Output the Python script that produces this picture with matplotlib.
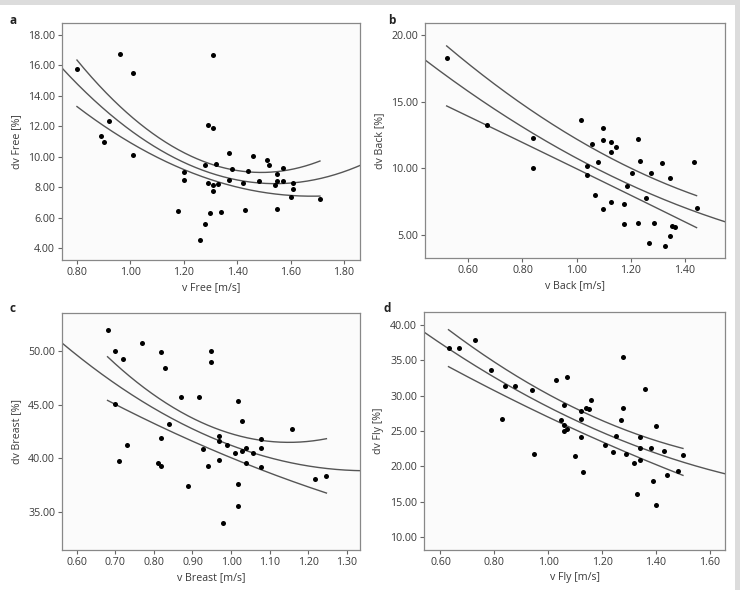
import numpy as np
import matplotlib
matplotlib.use("Agg")
import matplotlib.pyplot as plt
from matplotlib.ticker import FormatStrFormatter
from matplotlib.patches import Rectangle

plt.rcParams['font.family'] = ['Open Sans', 'DejaVu Sans']

# ---------------- data ----------------
free_v = [0.80, 0.96, 1.01, 0.92, 0.89, 0.90, 1.01, 1.20, 1.20, 1.18, 1.26, 1.28,
          1.30, 1.28, 1.29, 1.31, 1.31, 1.29, 1.31, 1.31, 1.32, 1.33, 1.34, 1.37,
          1.37, 1.38, 1.42, 1.43, 1.44, 1.46, 1.48, 1.51, 1.52, 1.54, 1.55, 1.55,
          1.55, 1.57, 1.57, 1.61, 1.61, 1.60, 1.71]
free_dv = [15.77, 16.77, 15.48, 12.38, 11.39, 11.00, 10.10, 9.03, 8.48, 6.45, 4.57, 5.60,
           6.30, 9.49, 12.09, 11.90, 16.69, 8.26, 8.16, 7.74, 9.53, 8.20, 6.36, 10.28,
           8.48, 9.18, 8.31, 6.49, 9.07, 10.04, 8.40, 9.80, 9.49, 8.18, 8.90, 8.44,
           6.58, 9.29, 8.40, 8.29, 7.89, 7.39, 7.26]

back_v = [0.52, 0.668, 0.838, 0.838, 1.016, 1.037, 1.037, 1.055, 1.068, 1.078, 1.096,
          1.096, 1.096, 1.126, 1.126, 1.126, 1.145, 1.176, 1.176, 1.185, 1.206, 1.225,
          1.225, 1.235, 1.255, 1.266, 1.274, 1.284, 1.315, 1.325, 1.345, 1.345, 1.354,
          1.364, 1.433, 1.443]
back_dv = [18.28, 13.28, 12.25, 10.00, 13.63, 10.18, 9.50, 11.80, 8.00, 10.50, 13.00,
           12.13, 6.93, 12.00, 11.25, 7.50, 11.58, 7.30, 5.80, 8.70, 9.65, 12.18,
           5.90, 10.58, 7.80, 4.40, 9.65, 5.90, 10.40, 4.20, 9.25, 4.90, 5.70,
           5.60, 10.45, 7.00]

breast_v = [0.680, 0.699, 0.699, 0.719, 0.710, 0.730, 0.769, 0.819, 0.829, 0.810, 0.819,
            0.819, 0.839, 0.869, 0.889, 0.918, 0.928, 0.939, 0.948, 0.948, 0.968, 0.968,
            0.968, 0.979, 0.989, 1.009, 1.018, 1.018, 1.018, 1.028, 1.028, 1.038, 1.038,
            1.058, 1.078, 1.078, 1.078, 1.158, 1.218, 1.247]
breast_dv = [52.03, 50.00, 45.03, 49.31, 39.78, 41.22, 50.78, 49.91, 48.47, 39.59, 39.28,
             41.91, 43.16, 45.72, 37.44, 45.72, 40.88, 39.28, 50.03, 49.03, 42.09, 41.59,
             39.84, 33.91, 41.28, 40.50, 45.38, 37.56, 35.53, 43.44, 40.72, 41.00, 39.59,
             40.50, 41.81, 40.91, 39.13, 42.75, 38.03, 38.34]

fly_v = [0.630, 0.669, 0.730, 0.788, 0.840, 0.878, 0.829, 0.939, 0.949, 1.029, 1.069,
         1.049, 1.059, 1.059, 1.059, 1.069, 1.099, 1.120, 1.120, 1.120, 1.130, 1.140,
         1.150, 1.159, 1.210, 1.240, 1.250, 1.270, 1.279, 1.279, 1.289, 1.320, 1.330,
         1.340, 1.340, 1.340, 1.360, 1.380, 1.390, 1.400, 1.400, 1.430, 1.440, 1.480,
         1.500]
fly_dv = [36.67, 36.76, 37.89, 33.66, 31.41, 31.41, 26.76, 30.80, 21.74, 32.25, 32.68,
          26.53, 28.64, 25.87, 24.93, 25.26, 21.46, 27.84, 26.76, 24.13, 19.20, 28.31,
          28.17, 29.39, 23.05, 22.07, 24.27, 26.53, 35.45, 28.31, 21.78, 20.47, 16.10,
          24.13, 22.63, 20.85, 30.89, 22.54, 17.98, 25.73, 14.51, 22.21, 18.73, 19.34,
          21.64]

# upper / lower band curves (quadratic coefficients, highest power first)
free_upper = [15.5, -46.19, 43.39]
free_lower = [7.6, -25.536, 28.87]
back_upper = [5.41, -22.79, 29.568]
back_lower = [-0.161, -9.575, 19.70]
breast_upper = [36.3, -83.49, 89.49]
breast_lower = [6.0, -26.868, 60.91]
fly_upper = [10.76, -42.18, 61.60]
fly_lower = [3.23, -24.52, 48.25]

panel_letters = ["a", "b", "c", "d"]
x_labels = ["v Free [m/s]", "v Back [m/s]", "v Breast [m/s]", "v Fly [m/s]"]
y_labels = ["dv Free [%]", "dv Back [%]", "dv Breast [%]", "dv Fly [%]"]
x_ticks = [[0.80, 1.00, 1.20, 1.40, 1.60, 1.80],
           [0.60, 0.80, 1.00, 1.20, 1.40],
           [0.60, 0.70, 0.80, 0.90, 1.00, 1.10, 1.20, 1.30],
           [0.60, 0.80, 1.00, 1.20, 1.40, 1.60]]
y_ticks = [[4, 6, 8, 10, 12, 14, 16, 18],
           [5, 10, 15, 20],
           [35, 40, 45, 50],
           [10, 15, 20, 25, 30, 35, 40]]
x_lims = [(0.744, 1.86), (0.44, 1.548), (0.562, 1.334), (0.539, 1.656)]
y_lims = [(3.23, 18.79), (3.27, 20.9), (31.4, 53.6), (8.2, 41.8)]

datasets = [(free_v, free_dv), (back_v, back_dv), (breast_v, breast_dv), (fly_v, fly_dv)]
bands = [(free_upper, free_lower), (back_upper, back_lower),
         (breast_upper, breast_lower), (fly_upper, fly_lower)]

# ---------------- figure ----------------
fig = plt.figure(figsize=(7.4, 5.9), dpi=100)
fig.patch.set_facecolor("white")
fig.patches.append(Rectangle((0, 1 - 5 / 590), 1, 5 / 590, transform=fig.transFigure,
                             facecolor="#dcdcdc", edgecolor="none", zorder=0))
fig.patches.append(Rectangle((1 - 5 / 740, 0), 5 / 740, 1, transform=fig.transFigure,
                             facecolor="#dcdcdc", edgecolor="none", zorder=0))

positions = [(62, 23, 360, 260), (425, 23, 725, 258), (62, 313, 360, 550), (424, 312, 725, 550)]
letter_pos = [(10, 20), (388, 20), (10, 309), (383, 309)]

line_col = "#555555"
txt_col = "#3a3a3a"

for i, (x, y) in enumerate(datasets):
    l, t, r, b = positions[i]
    ax = fig.add_axes([l / 740, 1 - b / 590, (r - l) / 740, (b - t) / 590])
    ax.set_facecolor("#fbfbfb")
    x = np.asarray(x)
    y = np.asarray(y)

    # quadratic least-squares fit over the whole axis
    coef = np.polyfit(x, y, 2)
    xs_full = np.linspace(x_lims[i][0], x_lims[i][1], 300)
    ax.plot(xs_full, np.polyval(coef, xs_full), color=line_col, lw=1.0, zorder=2)

    # band curves over the data range
    xs = np.linspace(x.min(), x.max(), 300)
    up, lo = bands[i]
    ax.plot(xs, np.polyval(up, xs), color=line_col, lw=1.0, zorder=2)
    ax.plot(xs, np.polyval(lo, xs), color=line_col, lw=1.0, zorder=2)

    ax.scatter(x, y, s=13, color="black", zorder=3, linewidths=0)

    ax.set_xlim(*x_lims[i])
    ax.set_ylim(*y_lims[i])
    ax.set_xticks(x_ticks[i])
    ax.set_yticks(y_ticks[i])
    ax.xaxis.set_major_formatter(FormatStrFormatter("%.2f"))
    ax.yaxis.set_major_formatter(FormatStrFormatter("%.2f"))
    for sp in ax.spines.values():
        sp.set_color("#888888")
        sp.set_linewidth(0.9)
    ax.tick_params(axis="both", direction="out", length=3, width=0.8, color="#666666",
                   labelsize=7.7, labelcolor=txt_col, pad=2)
    ax.set_xlabel(x_labels[i], fontsize=7.7, color=txt_col, labelpad=3)
    ax.set_ylabel(y_labels[i], fontsize=7.7, color=txt_col, labelpad=4)

    lx, ly = letter_pos[i]
    fig.text(lx / 740, 1 - ly / 590, panel_letters[i], fontsize=8.5, fontweight="bold",
             color="#222222", ha="left", va="center")

fig.savefig("out.png", dpi=100, facecolor=fig.get_facecolor())
